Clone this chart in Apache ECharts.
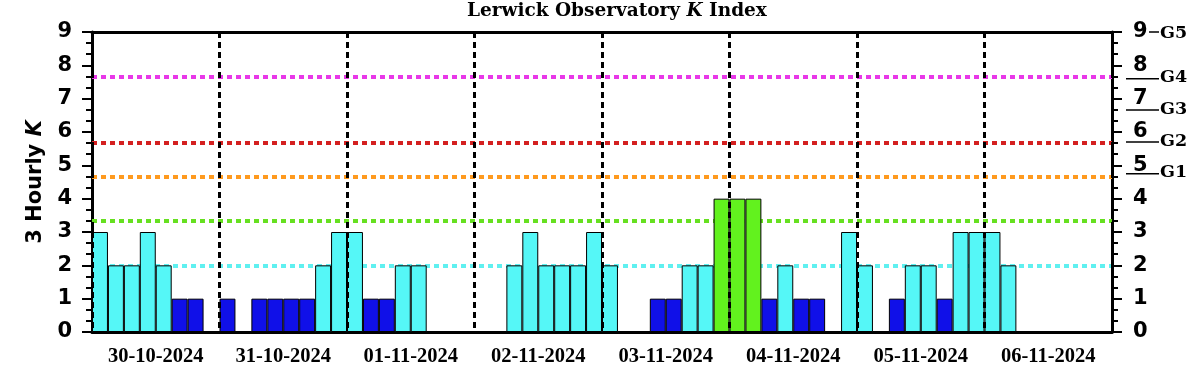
<!DOCTYPE html>
<head>
    <meta charset="utf-8"/>
    <style>
        html, body {
            height: 100%;
            margin: 0;
        }
        body {
            background-color: #fff;
        }
    </style>
    <script src="https://cdn.jsdelivr.net/npm/echarts@6.0.0/dist/echarts.min.js"></script>
</head>
<body>
<div id="main" style="height: 375px; width: 1202px;"></div>
<script type="text/javascript">
 // days shown on the x axis
 var days = ['30-10-2024', '31-10-2024', '01-11-2024', '02-11-2024',
             '03-11-2024', '04-11-2024', '05-11-2024', '06-11-2024'];
 // 3 hourly K values, 8 per day
 var kValues = [
     3, 2, 2, 3, 2, 1, 1, 0,
     1, 0, 1, 1, 1, 1, 2, 3,
     3, 1, 1, 2, 2, 0, 0, 0,
     0, 0, 2, 3, 2, 2, 2, 3,
     2, 0, 0, 1, 1, 2, 2, 4,
     4, 4, 1, 2, 1, 1, 0, 3,
     2, 0, 1, 2, 2, 1, 3, 3,
     3, 2, null, null, null, null, null, null
 ];
 // dotted threshold lines
 var levelValues = [2, 3.33, 4.67, 5.67, 7.67];
 var levelColors = ['#5ff0f0', '#66e020', '#ff9a1e', '#d42020', '#e838e8'];
 // storm scale marks on the right
 var gLevels = [4.75, 5.7, 6.66, 7.6, 9];
 var gLabels = ['G1', 'G2', 'G3', 'G4', 'G5'];
 var yTicks = [0, 1, 2, 3, 4, 5, 6, 7, 8, 9];

 // colour of a bar by K
 var kColors = ['#ffffff', '#1010e8', '#55f7f7', '#55f7f7', '#62f21e',
                '#ffa020', '#e02020', '#e02020', '#e83ce8', '#e83ce8'];

 var slots = [];
 for (var i = 0; i < kValues.length; i++) slots.push(String(i));

 var numFont = {color: '#000', fontFamily: 'DejaVu Sans', fontWeight: 'bold', fontSize: 21};
 var serif = 'Liberation Serif';

 function yAxisOpt(pos) {
     return {
         type: 'value', position: pos, min: yTicks[0], max: yTicks[yTicks.length - 1], interval: 1,
         axisLine: {show: true, lineStyle: {color: '#000', width: 3}},
         axisTick: {show: true, length: 10, lineStyle: {color: '#000', width: 2}},
         minorTick: {show: true, splitNumber: 3, length: 6, lineStyle: {color: '#000', width: 2}},
         axisLabel: Object.assign({margin: pos == 'left' ? 20 : 21}, numFont),
         splitLine: {show: false}
     };
 }

 var yLeft = yAxisOpt('left');
 yLeft.name = '3 Hourly {k|K}';
 yLeft.nameLocation = 'middle';
 yLeft.nameGap = 46;
 yLeft.nameTextStyle = {color: '#000', fontFamily: 'DejaVu Sans', fontWeight: 'bold', fontSize: 21,
     rich: {k: {fontFamily: 'DejaVu Sans', fontWeight: 'bold', fontStyle: 'italic', fontSize: 21, color: '#000'}}};

 var options = {
     animation: false,
     title: {
         text: 'Lerwick Observatory {k|K} Index',
         left: 462, top: -3,
         textStyle: {color: '#000', fontFamily: 'DejaVu Serif', fontWeight: 'bold', fontSize: 18.5,
             rich: {k: {fontFamily: 'DejaVu Serif', fontWeight: 'bold', fontStyle: 'italic', fontSize: 18.5, color: '#000'}}}
     },
     grid: {left: 92, right: 90, top: 32, bottom: 43},
     xAxis: [
         // 3 hour slots, bottom
         {type: 'category', data: slots, position: 'bottom', boundaryGap: true,
          axisLine: {lineStyle: {color: '#000', width: 3}},
          axisTick: {interval: 0, length: 5, lineStyle: {color: '#000', width: 2}},
          axisLabel: {show: false}, splitLine: {show: false}},
         // days, bottom
         {type: 'category', data: days, position: 'bottom', boundaryGap: true, z: 5,
          axisLine: {show: false},
          axisTick: {interval: 0, length: 11, lineStyle: {color: '#000', width: 2}},
          axisLabel: {interval: 0, margin: 14, color: '#000', fontFamily: serif, fontWeight: 'bold', fontSize: 20.5},
          splitLine: {show: true, interval: 0, lineStyle: {color: '#000', width: 3, type: [6, 4]}}},
         // 3 hour slots, top
         {type: 'category', data: slots, position: 'top', boundaryGap: true,
          axisLine: {lineStyle: {color: '#000', width: 3}},
          axisTick: {interval: 0, length: 5, lineStyle: {color: '#000', width: 2}},
          axisLabel: {show: false}},
         // days, top
         {type: 'category', data: days, position: 'top', boundaryGap: true,
          axisLine: {show: false},
          axisTick: {interval: 0, length: 10, lineStyle: {color: '#000', width: 2}},
          axisLabel: {show: false}}
     ],
     yAxis: [yLeft, yAxisOpt('right')],
     series: [
         {
             // dotted threshold lines, under the bars
             type: 'line', data: [], z: 1, silent: true,
             markLine: {
                 z: 1, symbol: 'none', silent: true, label: {show: false},
                 data: levelValues.map(function (v, i) {
                     return {yAxis: v, lineStyle: {color: levelColors[i], width: 4, type: [5, 4]}};
                 })
             }
         },
         {
             type: 'bar', z: 2, barWidth: '100%',
             data: kValues.map(function (v) {
                 return {value: v, itemStyle: {color: v == null ? '#fff' : kColors[v]}};
             }),
             itemStyle: {borderColor: '#000', borderWidth: 1}
         },
         {
             // G scale on the right
             type: 'custom', clip: false, silent: true, z: 6,
             data: gLevels.map(function (v, i) { return [0, v, gLabels[i]]; }),
             renderItem: function (params, api) {
                 var cs = params.coordSys;
                 var right = cs.x + cs.width;
                 var y = api.coord([0, api.value(1)])[1];
                 var top = params.dataIndex == gLevels.length - 1;
                 var x1 = top ? right + 37 : right + 14;
                 var x2 = right + 47;
                 return {
                     type: 'group',
                     children: [
                         {type: 'line', shape: {x1: x1, y1: y, x2: x2, y2: y},
                          style: {stroke: '#000', lineWidth: 1.5}},
                         {type: 'text', x: x2 + 1, y: top ? y + 1 : y - 1,
                          style: {text: gLabels[params.dataIndex], fill: '#000', fontFamily: 'DejaVu Serif',
                                  fontWeight: 'bold', fontSize: 17.5, verticalAlign: 'middle', align: 'left'}}
                     ]
                 };
             }
         }
     ]
 };

 var myChart = echarts.init(document.getElementById('main'));
 myChart.setOption(options);
</script>
</body>
